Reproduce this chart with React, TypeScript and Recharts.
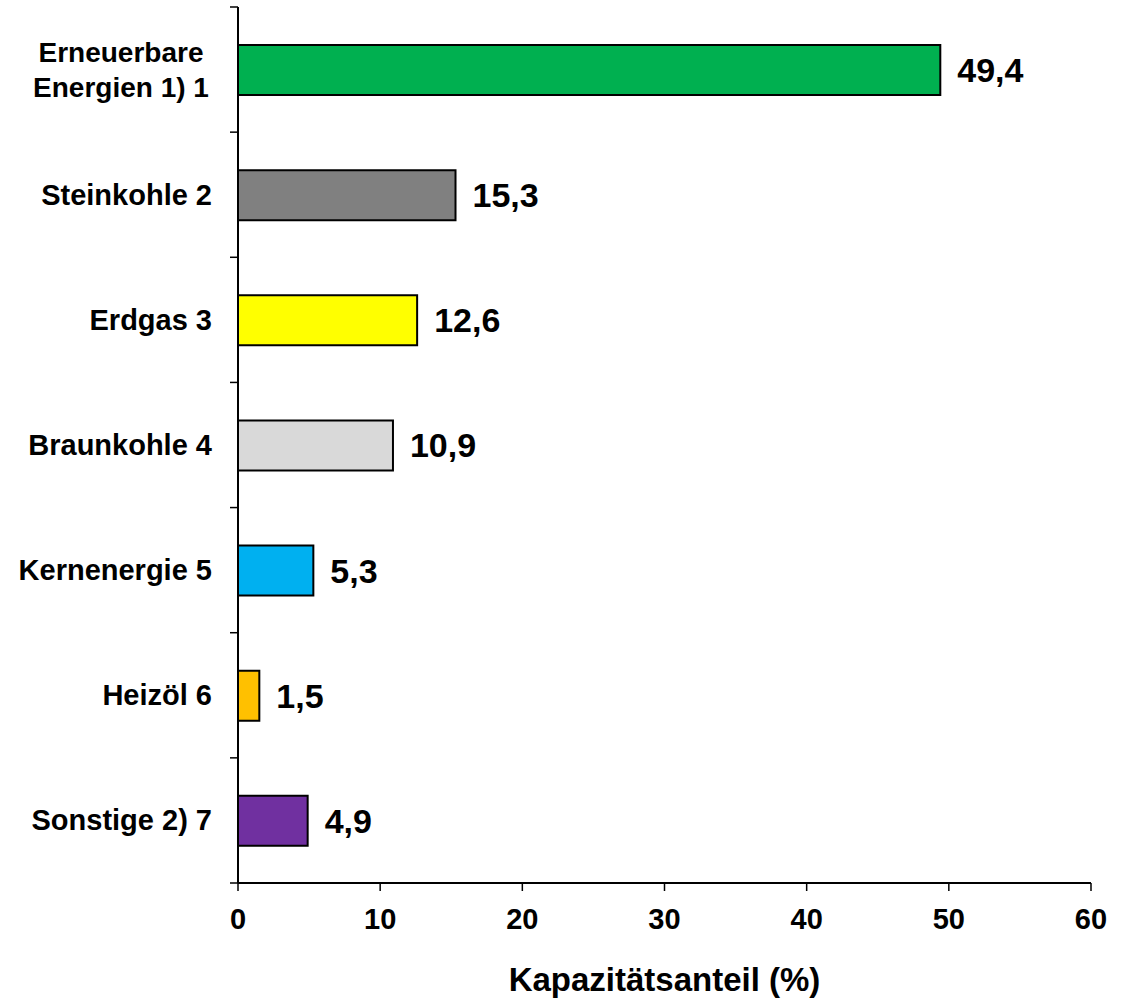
import React from "react";
import { BarChart, Bar, XAxis, YAxis, Cell, LabelList, Label } from "recharts";

const categories = [
  "Erneuerbare\nEnergien 1) 1",
  "Steinkohle 2",
  "Erdgas 3",
  "Braunkohle 4",
  "Kernenergie 5",
  "Heizöl 6",
  "Sonstige 2) 7",
];
const shares = [49.4, 15.3, 12.6, 10.9, 5.3, 1.5, 4.9];
const colors = ["#00B050", "#808080", "#FFFF00", "#D9D9D9", "#00B0F0", "#FFC000", "#7030A0"];
const xTicks = [0, 10, 20, 30, 40, 50, 60];

const data = categories.map((name, i) => ({ name, value: shares[i] }));

const FONT = '"Liberation Sans", Arial, sans-serif';

function CategoryTick(props: any) {
  const { x, y, payload, index } = props;
  const half = payload.offset ?? 62.5;
  const lines = String(payload.value).split("\n");
  const lh = 35;
  const isLast = index === categories.length - 1;
  return (
    <g>
      <line x1={x} x2={x + 8} y1={y - half} y2={y - half} stroke="#000" strokeWidth={1.5} />
      {isLast && <line x1={x} x2={x + 8} y1={y + half} y2={y + half} stroke="#000" strokeWidth={1.5} />}
      {lines.length === 1 ? (
        <text x={x - 18} y={y} textAnchor="end" dominantBaseline="central" fontFamily={FONT} fontWeight="bold" fontSize={29} fill="#000">
          {lines[0]}
        </text>
      ) : (
        <text textAnchor="middle" fontFamily={FONT} fontWeight="bold" fontSize={28} fill="#000">
          {lines.map((l, i) => (
            <tspan key={i} x={x - 109} y={y + (i - (lines.length - 1) / 2) * lh} dominantBaseline="central">
              {l}
            </tspan>
          ))}
        </text>
      )}
    </g>
  );
}

export default function App() {
  return (
    <div style={{ position: "absolute", left: 0, top: 0, background: "#fff" }}>
      <BarChart
        width={1127}
        height={1000}
        data={data}
        layout="vertical"
        margin={{ top: 7, right: 36, bottom: 0, left: 0 }}
        barCategoryGap={37}
      >
        <XAxis
          type="number"
          domain={[0, 60]}
          ticks={xTicks}
          interval={0}
          height={117}
          tickSize={8}
          tickMargin={17}
          axisLine={{ stroke: "#000", strokeWidth: 2 }}
          tickLine={{ stroke: "#000", strokeWidth: 1.5 }}
          tick={{ fill: "#000", fontSize: 29, fontWeight: "bold", fontFamily: FONT }}
        >
          <Label
            value="Kapazitätsanteil (%)"
            position="insideBottom"
            offset={9}
            style={{ fill: "#000", fontSize: 33, fontWeight: "bold", fontFamily: FONT }}
          />
        </XAxis>
        <XAxis
          xAxisId="top"
          orientation="top"
          type="number"
          domain={[0, 60]}
          height={0}
          tick={false}
          tickLine={false}
          axisLine={{ stroke: "#808080", strokeWidth: 1 }}
        />
        <YAxis
          type="category"
          dataKey="name"
          width={238}
          tickSize={8}
          tickMargin={0}
          tickLine={false}
          interval={0}
          axisLine={{ stroke: "#000", strokeWidth: 2 }}
          tick={<CategoryTick />}
        />
        <YAxis
          yAxisId="right"
          orientation="right"
          type="category"
          dataKey="name"
          width={0}
          tick={false}
          tickLine={false}
          axisLine={{ stroke: "#000", strokeWidth: 2 }}
        />
        <Bar dataKey="value" barSize={50} stroke="#000" strokeWidth={2} isAnimationActive={false}>
          {data.map((d, i) => (
            <Cell key={d.name} fill={colors[i]} />
          ))}
          <LabelList
            dataKey="value"
            position="right"
            offset={17}
            formatter={(v: any) => String(v).replace(".", ",")}
            style={{ fill: "#000", fontSize: 34, fontWeight: "bold", fontFamily: FONT }}
          />
        </Bar>
      </BarChart>
    </div>
  );
}
